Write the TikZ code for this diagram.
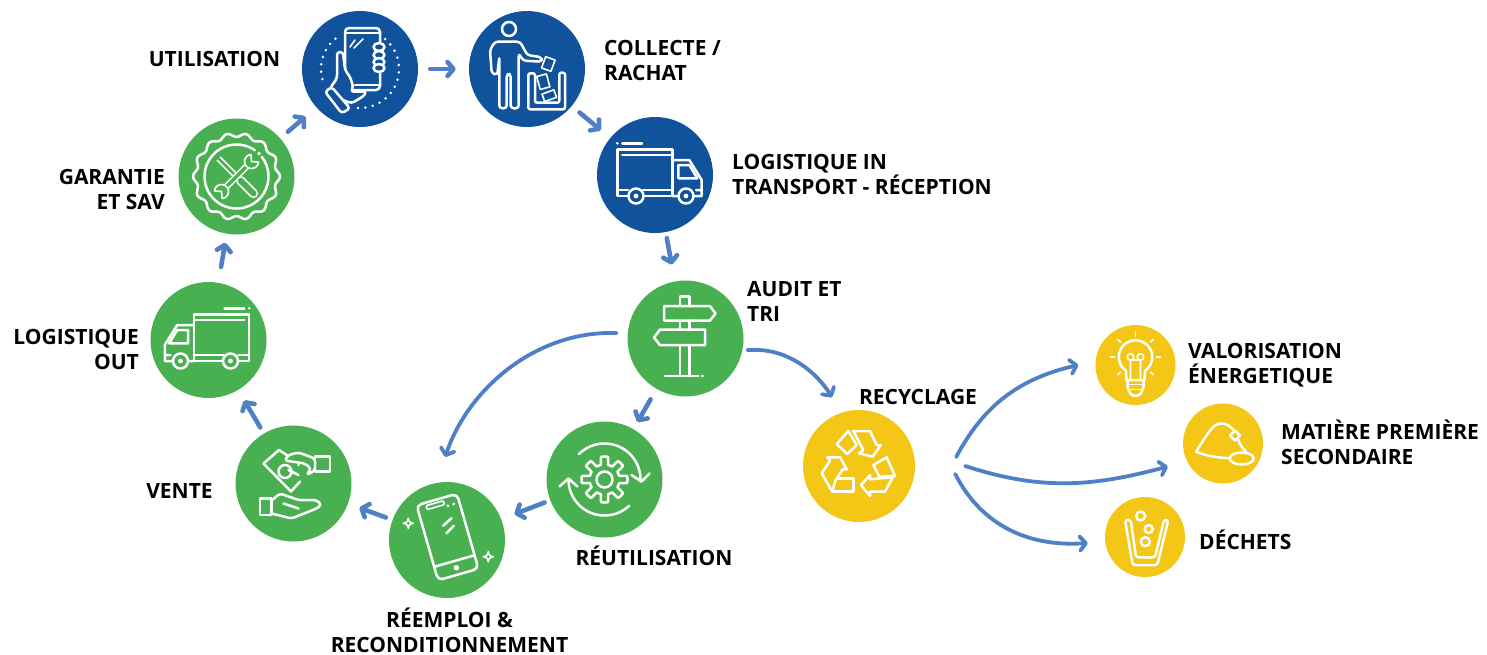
\documentclass[tikz,border=0pt]{standalone}
\usepackage{fontspec}
\setmainfont{Open Sans}
\usetikzlibrary{arrows.meta}

\definecolor{cpblue}{HTML}{10529C}
\definecolor{cpgreen}{HTML}{49B051}
\definecolor{cpyellow}{HTML}{F4C616}
\definecolor{cparrow}{HTML}{4F7FC5}

\tikzset{
  bigstep/.style={circle,inner sep=0pt,minimum size=116pt},
  recyclestep/.style={circle,inner sep=0pt,minimum size=112pt,fill=cpyellow},
  endstep/.style={circle,inner sep=0pt,minimum size=80pt,fill=cpyellow},
  steplabel/.style={font=\fontsize{21}{25}\selectfont\bfseries,inner sep=0pt,text=black},
  leftlabel/.style={steplabel,align=left,anchor=west},
  rightlabel/.style={steplabel,align=right,anchor=east},
  shortarrow/.style={draw=cparrow,line width=4.6pt,line cap=round,-{Straight Barb[length=6pt,width=14pt,round]}},
  longarrow/.style={draw=cparrow,line width=3.8pt,line cap=round,-{Straight Barb[length=6pt,width=14pt,round]}},
  iconline/.style={draw=white,line width=2.5pt,line join=round,line cap=round},
  iconthin/.style={draw=white,line width=1.6pt,line join=round,line cap=round},
}

\newcommand{\handicon}{
  \foreach \a in {-50,-39,...,100} \fill[white] ({39*cos(\a)},{39*sin(\a)}) circle (1.4);
  \foreach \a in {165,176,...,232} \fill[white] ({39*cos(\a)},{39*sin(\a)}) circle (1.4);
  \draw[iconline,fill=cpblue,rounded corners=4pt] (-15,-41) rectangle (20,21);
  \draw[iconline] (-15,-36) -- (20,-36) (-5,16) -- (20,16);
  \draw[iconthin] (-10,-22) -- (-5,-29) (-6,-21) -- (3,-30);
  \foreach \y in {-22,-14,-7,-1} \draw[iconline,fill=cpblue] (19,\y) ellipse (5.5 and 4);
  \draw[iconline,fill=cpblue,rounded corners=3pt] (-23,-17) -- (-17,-17) -- (-15,1) -- (-10,7.7) -- (-6.7,17.7) -- (-9.3,22.7) -- (6.7,22.7) .. controls (3,28) and (-3,31) .. (-8.3,34.3) -- (-20,30) -- (-30,19.3) -- (-23,9.3) -- cycle;
  \draw[iconline,fill=cpblue,rounded corners=3pt] (-35,22.7) -- (-28.3,18) -- (-10,39.3) -- (-18.3,44.3) -- cycle;
}
\newcommand{\binicon}{
  \draw[iconline] (-18,-40) circle (7);
  \draw[iconline,rounded corners=3pt] (-29.7,6) -- (-35.3,4.3) -- (-37,-19) -- (-32,-27.3) -- (-7,-27.3) -- (0.3,-14) -- (14.7,-11.7) -- (14.7,-7.3) -- (-3.7,-8.3) -- (-8.3,-15.7) -- (-8.3,39.3) -- (-16.3,39.3) -- (-16.3,5) -- (-20.3,5) -- (-20.3,39.3) -- (-27.7,39.3) -- (-27.7,-12.3) -- cycle;
  \draw[iconline,rounded corners=2pt] (1.3,4.3) -- (1.3,40.3) -- (38,40.3) -- (38,3.7) -- (32.3,3.7) -- (32.3,33.7) -- (8,33.7) -- (8,4.3) -- cycle;
  \draw[iconthin,rotate around={-20:(21.3,-5)}] (16.3,-11) rectangle (26.3,1);
  \draw[iconthin,rotate around={15:(16.3,12.7)}] (11.3,6) rectangle (21.3,19.4);
  \draw[iconthin,rotate around={20:(22.3,26.7)}] (16,22.7) rectangle (28.6,30.7);
}
\newcommand{\truckicon}[1]{
  \draw[iconline] (-37.7,-25.7) rectangle (17.7,21);
  \draw[iconline] (-32.7,-20) -- (17.7,-20) (-32.7,-31.7) -- (-13,-31.7);
  \fill[white] (-37.7,-31.7) circle (1.4);
  \draw[iconline] (-37.7,15) -- (-27,15) (-12,15) -- (17.7,15);
  \draw[iconline] (17.7,-15) -- (34.3,-15) -- (46.7,5) -- (46.7,21) -- (17.7,21) (41,15) -- (46.7,15);
  \draw[iconline] (23.3,-10) -- (34.3,-10) -- (42.3,3.3) -- (23.3,3.3) -- cycle;
  \foreach \x in {-19,31} {
    \draw[iconline,fill=#1] (\x,21) circle (7.5);
    \fill[white] (\x,21) circle (2.4);
  }
}
\newcommand{\signicon}{
  \draw[iconline] (-5.5,-32.5) -- (-5.5,-42) -- (3.8,-42) -- (3.8,-32.5) (-5.5,-18) -- (-5.5,-9) (3.8,-18) -- (3.8,-9);
  \draw[iconline] (-5.5,6.7) -- (-5.5,37.5) (3.8,6.7) -- (3.8,37.5) (-20.5,37.5) -- (13,37.5);
  \fill[white] (17,37.5) circle (1.4);
  \draw[iconline] (-21.5,-32.5) -- (24.5,-32.5) -- (30,-25) -- (24.5,-18) -- (-21.5,-18) -- cycle;
  \draw[iconline] (19.5,-9) -- (-25.5,-9) -- (-31.5,-1) -- (-25.5,6.7) -- (19.5,6.7) -- cycle;
}
\newcommand{\toolicon}{
  \draw[iconline,samples=113,domain=0:360,smooth] plot ({(41.5+2*cos(14*\x))*cos(\x)},{(41.5+2*cos(14*\x))*sin(\x)}) -- cycle;
  \draw[iconline,samples=60,domain=-38:305] plot ({32*cos(\x)},{32*sin(\x)});
  \fill[white] (22.5,-23) circle (1.8);
  \draw[iconthin,double=cpgreen,double distance=2.5pt,line cap=butt] (-18,-18) -- (4,4);
  \draw[iconthin,double=cpgreen,double distance=6pt,line cap=round] (4,4) -- (17,17);
  \draw[iconthin,double=cpgreen,double distance=3.5pt,line cap=butt] (11,-11) -- (-11,11);
  \draw[iconthin,fill=cpgreen,samples=20,domain=5:265] plot ({15+7*cos(\x)},{-15+7*sin(\x)}) -- (15,-15) -- cycle;
  \draw[iconthin,fill=cpgreen,samples=20,domain=185:445] plot ({-15+7*cos(\x)},{15+7*sin(\x)}) -- (-15,15) -- cycle;
}
\newcommand{\moneyicon}{
  \draw[iconline] (6.5,-2) -- (-2.5,8) -- (-30,-20) -- (-14.5,-33.5) -- (-6,-28);
  \draw[iconline] (-8.5,-12) circle (6.5);
  \draw[iconline,fill=cpgreen,rounded corners=3pt] (21.5,-25) -- (5,-31) -- (-5,-28.5) -- (-9,-23) -- (11.5,-20) -- (17.5,-15) -- (13,-8.5) -- (21.5,-13) -- cycle;
  \draw[iconline] (-5,-13.5) -- (5,-8.5);
  \draw[iconline] (21.5,-27) rectangle (36.5,-12) (-33.5,15) rectangle (-22,31.5);
  \draw[iconline,rounded corners=3pt] (-22,17) -- (-13.5,10) -- (5,16.5) -- (23,16.5) -- (28,21.5) -- (23,25) -- (-2,35) -- (-22,30);
  \draw[iconline] (-10,20) -- (5,25);
  \fill[white] (5,-18.5) circle (1.4);
}
\newcommand{\sparkicon}{
  \draw[iconthin] (0,-5) .. controls (1,-1) and (1,-1) .. (5,0) .. controls (1,1) and (1,1) .. (0,5) .. controls (-1,1) and (-1,1) .. (-5,0) .. controls (-1,-1) and (-1,-1) .. (0,-5) -- cycle;
}
\newcommand{\mobileicon}{
  \begin{scope}[shift={(0.5pt,3pt)},rotate=16]
    \draw[iconline,rounded corners=5pt] (-21,-39) rectangle (21,39);
    \draw[iconthin,rounded corners=1pt] (-12,-36) rectangle (6,-32);
    \draw[iconline] (-21,25) -- (21,25);
    \fill[white] (0,32) circle (2.7) (9,-30) circle (1.5) (15,-30) circle (1.5);
    \draw[iconline] (-1,-12) -- (9,-17) (0,-4) -- (9,-9);
  \end{scope}
  \begin{scope}[shift={(-38.7pt,16.7pt)}] \sparkicon \end{scope}
  \begin{scope}[shift={(41.3pt,-16.7pt)}] \sparkicon \end{scope}
}
\newcommand{\reuseicon}{
  \draw[iconline,samples=193,domain=0:360] plot ({(19+4*max(-1,min(1,3*cos(8*\x))))*cos(\x)},{(19+4*max(-1,min(1,3*cos(8*\x))))*sin(\x)}) -- cycle;
  \draw[iconline] (0,0) circle (8);
  \draw[iconline,samples=40,domain=-135:3] plot ({36*cos(\x)},{36*sin(\x)});
  \draw[iconline] (27,-4.5) -- (37,2) -- (45,-6);
  \draw[iconline,samples=40,domain=47:178] plot ({36*cos(\x)},{36*sin(\x)});
  \draw[iconline] (-45,7) -- (-36,-1) -- (-27,7);
}
\newcommand{\recycleicon}{
  \draw[iconline] (-22.3,-22) -- (-10.7,-35) -- (-2.3,-21) -- (-11.7,-12) -- cycle;
  \draw[iconline] (-5.7,-35) -- (11,-35) -- (17.7,-21) -- (21.7,-21) -- (13.7,-9.3) -- (0,-12.7) -- (4.3,-16) -- cycle;
  \draw[iconline] (-31.7,-8.7) -- (-19,-8.7) -- (-12.3,3.3) -- (-16.3,3.3) -- (-23.7,14.7) -- (-26.7,25.7) -- (-37.3,7.3) -- (-29,-5.3) -- cycle;
  \draw[iconline] (-21.7,12.3) -- (-5.7,12.3) -- (-5.7,25.7) -- (-26.3,25.7);
  \draw[iconline] (14.3,-1) -- (27.7,-8.7) -- (36,10) -- (20.3,10.7) -- cycle;
  \draw[iconline] (33.7,11.3) -- (26,25.7) -- (11,25.7) -- (11,30) -- (2,19) -- (11,9) -- (11,13.3) -- cycle;
}
\newcommand{\bulbicon}{
  \draw[iconline,samples=40,domain=125:415] plot ({16.7*cos(\x)},{-8+16.7*sin(\x)}) -- (9,15) -- (-9,15) -- cycle;
  \draw[iconthin] (-5,15) -- (-5,-5) -- (5,-5) -- (5,15) (-5,-8) circle (3.3) (5,-8) circle (3.3);
  \draw[iconline,rounded corners=2pt] (-8,15) -- (-8,23) -- (-4,30.7) -- (4,30.7) -- (8,23) -- (8,15);
  \draw[iconthin] (-8,19.5) -- (8,19.5) (-7,24.5) -- (7,24.5);
  \foreach \a in {0,-45,-90,-135,180,45,135} \draw[iconthin] ({21*cos(\a)},{-8+21*sin(\a)}) -- ({25*cos(\a)},{-8+25*sin(\a)});
}
\newcommand{\pileicon}{
  \draw[iconline] (10.3,-14) .. controls (6,-18) and (3,-20) .. (-1.3,-20) .. controls (-10,-20) and (-14,-12) .. (-27,8.2) .. controls (-15,13) and (-5,14) .. (7,14.8);
  \draw[iconline] (15.3,-4) .. controls (17,2) and (20,5) .. (23,8);
  \draw[iconline] (12,-13) -- (17,-8) -- (12,-3) -- (7,-8) -- cycle;
  \draw[iconline] (18.7,15) ellipse (12 and 6);
}
\newcommand{\wasteicon}{
  \draw[iconline,rounded corners=2.5pt] (-20,-17) -- (-14.3,-17) -- (-9,20.3) -- (10,20.3) -- (19,-17) -- (23.3,-17) -- (12.3,28) -- (-12.3,28) -- cycle;
  \draw[iconline] (-4.3,-21) circle (4.5) (3.7,-8) circle (4) (0.3,4.7) circle (4.5);
}

\begin{document}
\begin{tikzpicture}[x=1pt,y=-1pt]

  \useasboundingbox (0,0) rectangle (1487,654);

  \node[bigstep,fill=cpblue] (utilisation) at (360,69) {};
  \node[bigstep,fill=cpblue] (collecte) at (527,69) {};
  \node[bigstep,fill=cpblue] (logistiquein) at (655,175) {};
  \node[bigstep,fill=cpgreen] (audit) at (685.5,338.5) {};
  \node[bigstep,fill=cpgreen] (reutilisation) at (604.5,479.5) {};
  \node[bigstep,fill=cpgreen] (reemploi) at (447,540) {};
  \node[bigstep,fill=cpgreen] (vente) at (293.5,483.5) {};
  \node[bigstep,fill=cpgreen] (logistiqueout) at (208.5,340) {};
  \node[bigstep,fill=cpgreen] (garantie) at (236.5,176.5) {};
  \node[recyclestep] (recyclage) at (859,466) {};
  \node[endstep] (valorisation) at (1135.5,365) {};
  \node[endstep] (matiere) at (1223,443.5) {};
  \node[endstep] (dechets) at (1145,537) {};

  \begin{scope}[shift={(utilisation.center)}] \handicon \end{scope}
  \begin{scope}[shift={(collecte.center)}] \binicon \end{scope}
  \begin{scope}[shift={(logistiquein.center)}] \truckicon{cpblue} \end{scope}
  \begin{scope}[shift={(logistiqueout.center)},xshift=3pt,xscale=-1] \truckicon{cpgreen} \end{scope}
  \begin{scope}[shift={(audit.center)}] \signicon \end{scope}
  \begin{scope}[shift={(garantie.center)}] \toolicon \end{scope}
  \begin{scope}[shift={(vente.center)}] \moneyicon \end{scope}
  \begin{scope}[shift={(reemploi.center)}] \mobileicon \end{scope}
  \begin{scope}[shift={(reutilisation.center)}] \reuseicon \end{scope}
  \begin{scope}[shift={(recyclage.center)}] \recycleicon \end{scope}
  \begin{scope}[shift={(valorisation.center)}] \bulbicon \end{scope}
  \begin{scope}[shift={(matiere.center)}] \pileicon \end{scope}
  \begin{scope}[shift={(dechets.center)}] \wasteicon \end{scope}

  \node[steplabel] (labelutilisation) at (214.5,59) {UTILISATION};
  \node[leftlabel] (labelcollecte) at (604,60) {COLLECTE /\\RACHAT};
  \node[leftlabel] (labellogistiquein) at (732,174.5) {LOGISTIQUE IN\\TRANSPORT - RÉCEPTION};
  \node[leftlabel] (labelaudit) at (747,301) {AUDIT ET\\TRI};
  \node[steplabel] (labelrecyclage) at (918,397) {RECYCLAGE};
  \node[leftlabel] (labelvalorisation) at (1188,365.5) {VALORISATION\\ÉNERGETIQUE};
  \node[leftlabel] (labelmatiere) at (1281,442) {MATIÈRE PREMIÈRE\\SECONDAIRE};
  \node[leftlabel] (labeldechets) at (1199,540) {DÉCHETS};
  \node[steplabel] (labelreutilisation) at (654,556) {RÉUTILISATION};
  \node[steplabel,align=center] (labelreemploi) at (449.5,630.5) {RÉEMPLOI \&\\RECONDITIONNEMENT};
  \node[steplabel] (labelvente) at (179.5,491) {VENTE};
  \node[rightlabel] (labellogistiqueout) at (139,349) {LOGISTIQUE\\OUT};
  \node[rightlabel] (labelgarantie) at (165,189) {GARANTIE\\ET SAV};

  \draw[shortarrow,shorten <=12pt,shorten >=13pt] (utilisation) -- (collecte);
  \draw[shortarrow,shorten <=10pt,shorten >=12pt] (collecte) -- (logistiquein);
  \draw[shortarrow,shorten <=6pt,shorten >=17pt] (logistiquein) -- (audit);
  \draw[shortarrow,shorten <=12pt,shorten >=8pt] (audit) -- (reutilisation);
  \draw[shortarrow,shorten <=6pt,shorten >=14pt] (reutilisation) -- (reemploi);
  \draw[shortarrow,shorten <=7pt,shorten >=12pt] (reemploi) -- (vente);
  \draw[shortarrow,shorten <=7pt,shorten >=12pt] (vente) -- (logistiqueout);
  \draw[shortarrow,shorten <=16pt,shorten >=9pt] (logistiqueout) -- (garantie);
  \draw[shortarrow,shorten <=10pt,shorten >=14pt] (garantie) -- (utilisation);

  \draw[longarrow,shorten <=11pt,shorten >=27pt] (audit.175) to[out=178,in=72] (reemploi.100);
  \draw[longarrow,shorten <=5pt,shorten >=18pt] (audit.-12) to[out=5,in=122] (recyclage.108);
  \draw[longarrow] ([xshift=41pt,yshift=9pt]recyclage.east) to[out=62,in=193] ([xshift=-17pt]valorisation.west);
  \draw[longarrow] ([xshift=50pt]recyclage.east) to[out=-18,in=195] ([xshift=-15pt,yshift=-23pt]matiere.west);
  \draw[longarrow] ([xshift=40pt,yshift=-8pt]recyclage.east) to[out=-63,in=184] ([xshift=-17pt,yshift=-6pt]dechets.west);

\end{tikzpicture}
\end{document}
